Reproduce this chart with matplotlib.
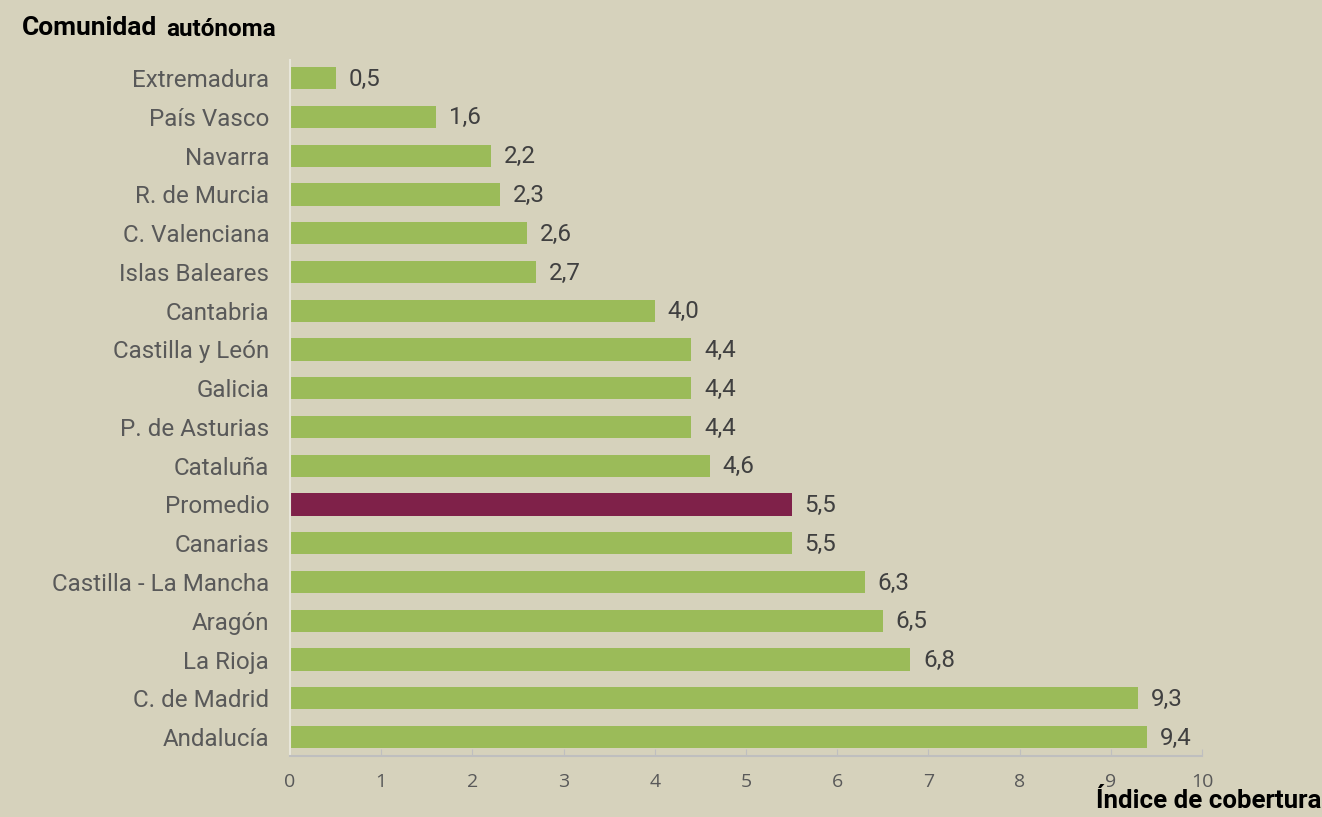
import matplotlib
matplotlib.use("Agg")
import matplotlib.pyplot as plt

categories = ["Extremadura", "País Vasco", "Navarra", "R. de Murcia", "C. Valenciana",
              "Islas Baleares", "Cantabria", "Castilla y León", "Galicia", "P. de Asturias",
              "Cataluña", "Promedio", "Canarias", "Castilla - La Mancha", "Aragón",
              "La Rioja", "C. de Madrid", "Andalucía"]
values = [0.5, 1.6, 2.2, 2.3, 2.6, 2.7, 4.0, 4.4, 4.4, 4.4, 4.6, 5.5, 5.5, 6.3, 6.5, 6.8, 9.3, 9.4]
labels = ["0,5", "1,6", "2,2", "2,3", "2,6", "2,7", "4,0", "4,4", "4,4", "4,4", "4,6",
          "5,5", "5,5", "6,3", "6,5", "6,8", "9,3", "9,4"]
xticks = list(range(0, 11))

BG = "#D6D2BC"
GREEN = "#9BBB59"
MAROON = "#7F2149"
GRAY = "#595959"
SPINE = "#BFBFBF"

fig = plt.figure(figsize=(13.22, 8.17), dpi=100, facecolor=BG)
ax = fig.add_axes([290/1322, 61/817, 912/1322, 696/817], facecolor=BG)

colors = [MAROON if c == "Promedio" else GREEN for c in categories]
ypos = list(range(len(categories)))
ax.barh(ypos, values, height=0.57, color=colors)

for y, v, t in zip(ypos, values, labels):
    ax.annotate(t, (v, y), xytext=(13, -1), textcoords="offset pixels",
                va="center", ha="left", fontsize=17.4, color="#404040", family="Roboto")

ax.set_xlim(0, 10)
ax.set_ylim(17.49, -0.47)
ax.set_yticks(ypos)
ax.set_yticklabels(categories, fontsize=17.4, color=GRAY, family="Roboto")
ax.set_xticks(xticks)
ax.set_xticklabels([str(x) for x in xticks], fontsize=14, color=GRAY, family="Open Sans")
ax.tick_params(axis="y", length=0, pad=15)
ax.tick_params(axis="x", direction="in", length=5, color=SPINE, pad=12)
for s in ["top", "right"]:
    ax.spines[s].set_visible(False)
ax.spines["left"].set_color("#E8E6DA")
ax.spines["left"].set_linewidth(1.5)
ax.spines["bottom"].set_color(SPINE)
ax.spines["bottom"].set_linewidth(1.5)

fig.text(22/1322, 1 - 28/817, "Comunidad", fontsize=19, fontweight="bold", family="Roboto",
         va="center", ha="left", color="black")
fig.text(166/1322, 1 - 29/817, "autónoma", fontsize=17.5, fontweight="bold", family="Roboto",
         va="center", ha="left", color="black")
fig.text(1321/1322, 1 - 801/817, "Índice de cobertura", fontsize=18.6, fontweight="bold",
         family="Roboto", va="center", ha="right", color="black")

fig.savefig("out.png", dpi=100, facecolor=BG)
